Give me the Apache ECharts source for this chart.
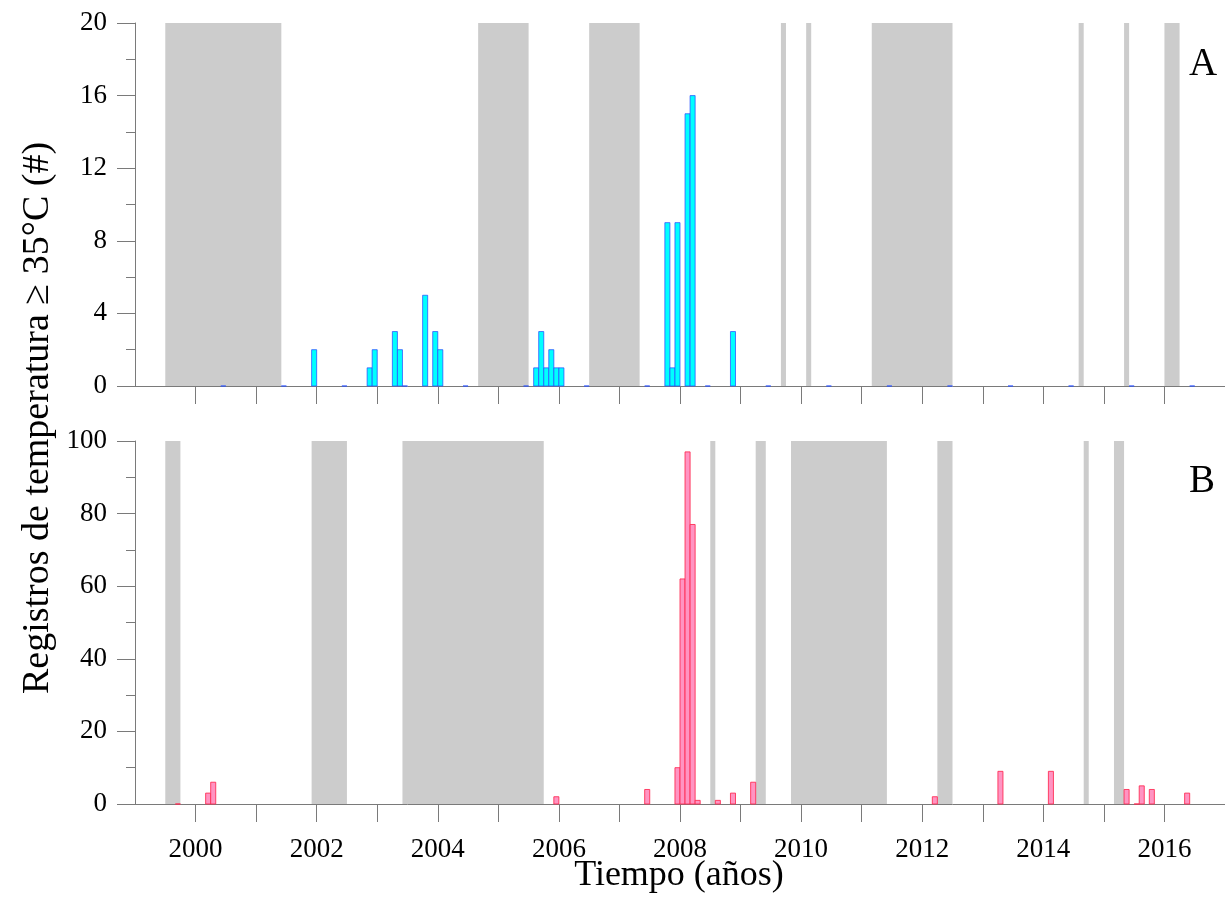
<!DOCTYPE html>
<html>
<head>
<meta charset="utf-8">
<script src="https://cdn.jsdelivr.net/npm/echarts@6/dist/echarts.min.js"></script>
<style>
html,body{margin:0;padding:0;background:#fff;}
#chart{width:1225px;height:916px;}
</style>
</head>
<body>
<div id="chart"></div>
<script>
// ---- data ----
// Panel A: monthly counts (month, value)
const monthsA = ['2000-06','2001-06','2001-12','2002-06','2002-11','2002-12','2003-04','2003-05','2003-06','2003-10','2003-12','2004-01','2004-06','2005-06','2005-08','2005-09','2005-10','2005-11','2005-12','2006-01','2006-06','2007-06','2007-10','2007-11','2007-12','2008-02','2008-03','2008-06','2008-11','2009-06','2010-06','2011-06','2012-06','2013-06','2014-06','2015-06','2016-06'];
const valuesA = [0,0,2,0,1,2,3,2,0,5,3,2,0,0,1,3,1,2,1,1,0,0,9,1,9,15,16,0,3,0,0,0,0,0,0,0,0];
// Panel B: monthly counts (month, value)
const monthsB = ['1999-09','2000-03','2000-04','2005-12','2007-06','2007-12','2008-01','2008-02','2008-03','2008-04','2008-08','2008-11','2009-03','2012-03','2013-04','2014-02','2015-05','2015-07','2015-08','2015-10','2016-05'];
const valuesB = [0,3,6,2,4,10,62,97,77,1,1,3,6,2,9,9,4,0,5,4,3];
// Shaded periods: [start month, end month (exclusive)]
const bandsA = [['1999-07','2001-06'],['2004-09','2005-07'],['2006-07','2007-05'],['2009-09','2009-10'],['2010-02','2010-03'],['2011-03','2012-07'],['2014-08','2014-09'],['2015-05','2015-06'],['2016-01','2016-04']];
const bandsB = [['1999-07','1999-10'],['2001-12','2002-07'],['2003-06','2005-10'],['2008-07','2008-08'],['2009-04','2009-06'],['2009-11','2011-06'],['2012-04','2012-07'],['2014-09','2014-10'],['2015-03','2015-05']];
// Axis ticks / labels
const tickYears = [2000,2001,2002,2003,2004,2005,2006,2007,2008,2009,2010,2011,2012,2013,2014,2015,2016];
const labelYears = [2000,2002,2004,2006,2008,2010,2012,2014,2016];
const xMin = 1999, xMax = 2017;
const yA = {min:0, max:20, interval:4};
const yB = {min:0, max:100, interval:20};
const yTitle = 'Registros de temperatura ≥ 35°C (#)';
const xTitle = 'Tiempo (años)';

// ---- helpers ----
function toYear(m){ const p = m.split('-'); return +p[0] + (+p[1]-1)/12; }
const FONT = 'Liberation Serif';
const AXC = '#7a7a7a';

function barSeries(months, values, idx, fill, stroke){
  return {
    type:'custom', xAxisIndex:idx, yAxisIndex:idx, z:3, silent:true,
    data: months.map((m,i)=>[toYear(m), values[i]]),
    renderItem:function(params, api){
      const x0 = api.value(0), v = api.value(1);
      const p0 = api.coord([x0, v]);
      const p1 = api.coord([x0 + 1/12, 0]);
      return {type:'rect', shape:{x:p0[0], y:p0[1], width:p1[0]-p0[0], height:p1[1]-p0[1]},
        style:{fill:fill, stroke:stroke, lineWidth:1}};
    }
  };
}
function bandSeries(bands, idx){
  return {
    type:'custom', xAxisIndex:idx, yAxisIndex:idx, z:1, silent:true,
    data: bands.map(b=>[toYear(b[0]), toYear(b[1])]),
    renderItem:function(params, api){
      const cs = params.coordSys;
      const a = api.coord([api.value(0), 0]);
      const b = api.coord([api.value(1), 0]);
      return {type:'rect', shape:{x:a[0], y:cs.y, width:b[0]-a[0], height:cs.height},
        style:{fill:'#cccccc'}};
    }
  };
}
function xAxis(idx, showLabels){
  return {
    type:'value', gridIndex:idx, min:xMin, max:xMax, interval:1,
    axisLine:{show:true, onZero:false, lineStyle:{color:AXC, width:1}},
    axisTick:{show:true, length:18, customValues:tickYears, lineStyle:{color:AXC}},
    splitLine:{show:false},
    axisLabel:{show:showLabels, margin:24, padding:[8,0,0,0], color:'#000', fontFamily:FONT, fontSize:27,
      showMinLabel:false, showMaxLabel:false,
      formatter:function(v){ return labelYears.indexOf(v) >= 0 ? String(v) : ''; }},
  };
}
function yAxis(idx, cfg){
  return {
    type:'value', gridIndex:idx, min:cfg.min, max:cfg.max, interval:cfg.interval,
    axisLine:{show:true, lineStyle:{color:AXC, width:1}},
    axisTick:{show:true, length:18, lineStyle:{color:AXC}},
    minorTick:{show:true, splitNumber:2, length:9, lineStyle:{color:AXC}},
    splitLine:{show:false}, minorSplitLine:{show:false},
    axisLabel:{margin:28, color:'#000', fontFamily:FONT, fontSize:27},
  };
}

const chart = echarts.init(document.getElementById('chart'), null, {renderer:'canvas'});
chart.setOption({
  animation:false,
  backgroundColor:'#fff',
  grid:[
    {left:135, top:23, width:1090, height:363},
    {left:135, top:441, width:1090, height:363}
  ],
  xAxis:[xAxis(0,false), xAxis(1,true)],
  yAxis:[yAxis(0,yA), yAxis(1,yB)],
  series:[
    bandSeries(bandsA,0),
    bandSeries(bandsB,1),
    barSeries(monthsA, valuesA, 0, '#00ffff', 'rgba(40,80,255,0.75)'),
    barSeries(monthsB, valuesB, 1, '#ff94c2', 'rgba(255,40,80,0.85)')
  ],
  graphic:[
    {type:'text', x:38, y:418, rotation:Math.PI/2, style:{text:yTitle, fontFamily:FONT, fontSize:38, fill:'#000', align:'center', verticalAlign:'middle'}},
    {type:'text', x:679, y:876, style:{text:xTitle, fontFamily:FONT, fontSize:36, fill:'#000', align:'center', verticalAlign:'middle'}},
    {type:'text', x:1203, y:65, style:{text:'A', fontFamily:FONT, fontSize:39, fill:'#000', align:'center', verticalAlign:'middle'}},
    {type:'text', x:1202, y:482, style:{text:'B', fontFamily:FONT, fontSize:39, fill:'#000', align:'center', verticalAlign:'middle'}}
  ]
});
</script>
</body>
</html>
